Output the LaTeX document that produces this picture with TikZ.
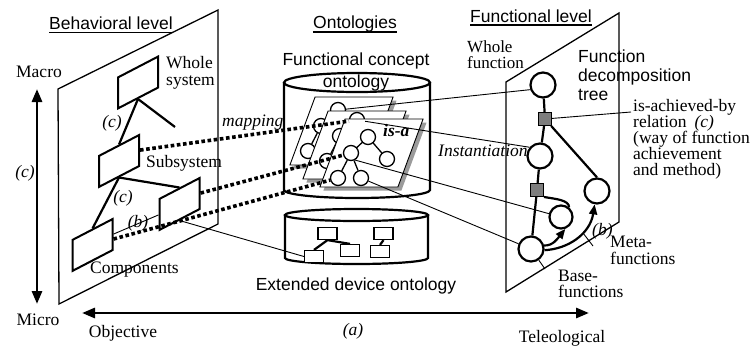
\documentclass[tikz,border=0pt]{standalone}
\usepackage{fontspec}
\setmainfont{Liberation Serif}
\setsansfont{Liberation Sans}
\usetikzlibrary{arrows.meta,calc}
\definecolor{shadowgray}{RGB}{155,155,155}
\definecolor{sqgray}{RGB}{125,125,125}
\newcommand\tightls{\lineskiplimit-20pt\relax}
\newcommand\ontree[1]{%
  \node[oc] (#1t) at (368,137) {};
  \node[oc] (#1m) at (351,153) {};
  \node[oc] (#1r) at (387,159) {};
  \node[oc] (#1a) at (338,178) {};
  \node[oc] (#1b) at (361,178) {};
  \draw[treel] (#1t) -- (#1m) (#1t) -- (#1r) (#1m) -- (#1a) (#1m) -- (#1b);
}
\begin{document}
\begin{tikzpicture}[x=1pt,y=-1pt,
  serif/.style={font=\fontsize{17.5}{16}\selectfont\tightls, inner sep=0pt},
  ital/.style={font=\itshape\fontsize{17.5}{16}\selectfont, inner sep=0pt},
  sans/.style={font=\sffamily\fontsize{17.5}{18}\selectfont\tightls, inner sep=0pt},
  plane/.style={draw, line width=1.3pt},
  bbox/.style={draw, line width=2pt, fill=white, minimum width=40pt, minimum height=31pt, inner sep=0pt, yslant=0.52, transform shape},
  sheetbox/.style={draw, line width=0.9pt, fill=white, minimum width=78pt, minimum height=68pt, inner sep=0pt, xslant=0.37, transform shape},
  sheetshadow/.style={fill=shadowgray, minimum width=78pt, minimum height=68pt, inner sep=0pt, xslant=0.37, transform shape},
  oc/.style={circle, draw, line width=1.3pt, fill=white, minimum size=15pt, inner sep=0pt},
  treel/.style={line width=1.3pt},
  fc/.style={circle, draw, line width=2.2pt, fill=white, minimum size=25pt, inner sep=0pt},
  sq/.style={rectangle, draw, line width=1pt, fill=sqgray, minimum size=13pt, inner sep=0pt},
  dbox/.style={rectangle, draw, line width=1.2pt, fill=white, minimum width=19pt, minimum height=12pt, inner sep=0pt},
  thinl/.style={line width=0.9pt},
  thickl/.style={line width=2.2pt},
  mapline/.style={line width=3.6pt, dash pattern=on 3.6pt off 2.6pt},
  bigarrow/.style={line width=2.8pt, {Triangle[length=13pt,width=10pt]}-{Triangle[length=13pt,width=10pt]}},
  cyl/.style={line width=2.2pt},
  smallarrow/.style={line width=2.2pt, -{Triangle[length=10pt,width=8pt]}},
  uline/.style={line width=1.2pt},
]
\useasboundingbox (0,0) rectangle (756,346);

% ---------- Behavioral level plane ----------
\draw[plane] (58,89) -- (218,10) -- (218,224) -- (59,304) -- cycle;

% ---------- big axes ----------
\coordinate (macroEnd) at (37,89);
\coordinate (microEnd) at (37,304);
\draw[bigarrow] (microEnd) -- (macroEnd);
\coordinate (objEnd) at (82,313);
\coordinate (telEnd) at (589,313);
\draw[bigarrow] (objEnd) -- (telEnd);

% ---------- behavioral boxes ----------
\node[shift={(138,82.5)}, bbox] (ws) at (0,0) {};
\node[shift={(119,161)}, bbox] (ss) at (0,0) {};
\node[shift={(92.5,245)}, bbox] (lc) at (0,0) {};
\node[shift={(179.5,204)}, bbox] (rc) at (0,0) {};
\coordinate (wsbranch) at (175,127);
\draw[thickl] (ws.south) -- (ss.north);
\draw[thickl] (ws.south) -- (wsbranch);
\draw[thickl] (ss.south) -- (lc.north);
\draw[thickl] (ss.south) -- (rc.north);
\draw[thinl] (lc.east) -- (rc.west);

% ---------- cylinders ----------
\draw[cyl, fill=white] (284,82.5) -- (284,190) arc[start angle=180,end angle=360,x radius=73pt,y radius=8pt] -- (430,82.5);
\draw[cyl, fill=white] (357,82.5) ellipse[x radius=73pt, y radius=9.5pt];
\draw[cyl, fill=white] (285,215) -- (285,258) arc[start angle=180,end angle=360,x radius=71.5pt,y radius=6pt] -- (428,215);
\draw[cyl, fill=white] (356.5,215) ellipse[x radius=71.5pt, y radius=6pt];

% device ontology boxes
\node[dbox] (dA) at (327.5,233.5) {};
\node[dbox] (dB) at (314,256.5) {};
\node[dbox] (dC) at (350,250.5) {};
\node[dbox] (dD) at (383.5,233.5) {};
\node[dbox] (dE) at (380,251.5) {};
\draw[thickl] (dA.south) -- (dB.north) (dA.south) -- (dC.north) (dD.south) -- (dE.north);

% ---------- stacked sheets ----------
\node[shift={(345,134.5)}, sheetshadow] (sh1s) at (0,0) {};
\node[shift={(341.5,131)}, sheetbox] (sh1) at (0,0) {};
\begin{scope}[shift={(-30,-27)}] \ontree{sa} \end{scope}
\node[shift={(358,148.5)}, sheetshadow] (sh2s) at (0,0) {};
\node[shift={(354.5,145)}, sheetbox] (sh2) at (0,0) {};
\begin{scope}[shift={(-11,-17)}] \ontree{sb} \end{scope}
\node[shift={(375,156.5)}, sheetshadow] (sh3s) at (0,0) {};
\node[shift={(371.5,153)}, sheetbox] (sh3) at (0,0) {};
\ontree{sc}

% ---------- Functional level plane ----------
\draw[plane] (506,82) -- (619,13) -- (619,222) -- (506,292) -- cycle;
\node[fc] (F1) at (543,85) {};
\node[sq] (S1) at (545,119) {};
\node[fc] (F2) at (540,156) {};
\node[sq] (S2) at (537,190) {};
\node[fc] (F3) at (597,191) {};
\node[fc, minimum size=23pt] (F4) at (561,217) {};
\node[fc] (F5) at (531,249) {};
\draw[thickl] (F1) -- (S1);
\draw[thickl] (S1) -- (F2);
\draw[thickl] (S1) -- (F3.north);
\draw[thickl] (F2) -- (S2);
\draw[thickl] (S2) -- (F5);
\draw[thickl] (S2.south east) .. controls (556,199) and (569,200) .. (F4.50);
\draw[smallarrow] (F5.15) .. controls (553,246) and (558,238) .. (F4.-70);
\draw[smallarrow] (F5.-5) .. controls (568,249) and (590,234) .. (F3.-100);
\coordinate (mt1) at (583,233);
\coordinate (mt2) at (593,246);
\draw[thinl] (mt1) -- (mt2);
\coordinate (bt2) at (545,269);
\draw[thinl] (F5.-55) -- (bt2);
\coordinate (iab) at (631,112);
\draw[thinl] (S1) -- (iab);

% ---------- connectors ----------
\draw[thinl] (sat) -- (F1.-160);
\draw[thinl] (sbt) -- (F2.140);
\draw[thinl] (scm.-60) -- (F4);
\draw[thinl] (scb) -- (F5);
\draw[thinl] (rc.south) -- (dB.west);
\draw[mapline] (ss.east) -- (sbt);
\draw[mapline] (rc.east) -- (scm);
\draw[mapline] ($(lc.south east)!0.35!(lc.north east)$) -- (sca);

% ---------- labels ----------
\node[sans, anchor=base west] (hbeh) at (49,29) {Behavioral level};
\draw[uline] ([yshift=-3.5pt]hbeh.base west) -- ([yshift=-3.5pt]hbeh.base east);
\node[sans, anchor=base] (hont) at (355,28) {Ontologies};
\draw[uline] ([yshift=-4pt]hont.base west) -- ([yshift=-4pt]hont.base east);
\node[sans, anchor=base west] (hfun) at (470,22) {Functional level};
\draw[uline] ([yshift=-3pt]hfun.base west) -- ([yshift=-3pt]hfun.base east);

\node[serif, anchor=base] (macro) at (39,77) {Macro};
\node[serif, anchor=base] (micro) at (38,325) {Micro};
\node[ital, anchor=base] (cleft) at (25,177) {(c)};
\node[serif, anchor=base] (objective) at (123,337) {Objective};
\node[ital, anchor=base] (alab) at (353,335) {(a)};
\node[serif, anchor=base] (teleo) at (562,342) {Teleological};

\node[serif, align=left, anchor=base west, font=\fontsize{17.5}{17}\selectfont\tightls] (wsl) at (166,85) {Whole\\system};
\node[serif, anchor=base west] (ssl) at (146,167) {Subsystem};
\node[serif, anchor=base west] (compl) at (90,273) {Components};
\node[ital, anchor=base] (c1) at (112,127) {(c)};
\node[ital, anchor=base] (c2) at (123,202) {(c)};
\node[ital, anchor=base] (b1) at (138,227) {(b)};
\node[ital, anchor=base west] (mapl) at (222,126) {mapping};
\node[font=\bfseries\itshape\fontsize{17.5}{16}\selectfont, inner sep=0pt, anchor=base west] (isa) at (383,136) {is-a};
\node[ital, anchor=base west] (inst) at (438,156) {Instantiation};

\node[sans, align=center, anchor=base, font=\sffamily\fontsize{17.5}{22.5}\selectfont\tightls] (fco) at (356,87.5) {Functional concept\\ontology};
\node[sans, anchor=base] (edo) at (356,290) {Extended device ontology};

\node[serif, align=left, anchor=base west, font=\fontsize{17}{15.5}\selectfont\tightls] (wf) at (467,68) {Whole\\function};
\node[sans, align=left, anchor=base west, font=\sffamily\fontsize{17.5}{19}\selectfont\tightls] (fdt) at (578,100) {Function\\decomposition\\tree};

\node[serif, align=left, anchor=base west] (ia) at (633,175) {is-achieved-by\\relation\hspace{8pt}\textit{(c)}\\(way of function\\achievement\\and method)};

\node[serif, align=left, anchor=base west, font=\fontsize{17.5}{17}\selectfont\tightls] (mf) at (610,264) {Meta-\\functions};
\node[serif, align=left, anchor=base west] (bf) at (558,297) {Base-\\functions};
\node[ital, anchor=base west] (b2) at (592,235) {(b)};
\end{tikzpicture}
\end{document}
